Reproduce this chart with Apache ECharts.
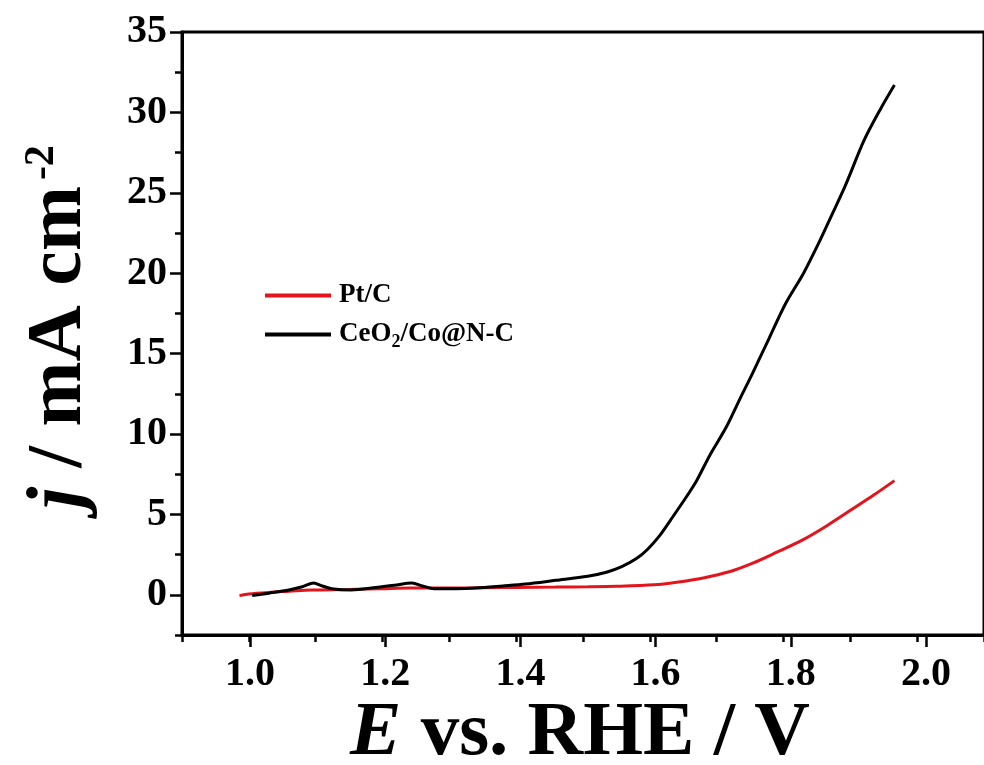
<!DOCTYPE html>
<html>
<head>
<meta charset="utf-8">
<script src="https://cdn.jsdelivr.net/npm/echarts@6/dist/echarts.min.js"></script>
<style>
  html, body { margin: 0; padding: 0; background: #fff; }
  #lsv { width: 984px; height: 765px; }
</style>
</head>
<body>
<div id="lsv"></div>
<script>
// potentials (V vs. RHE) and current densities (mA cm-2)
var ptcE = [0.986, 1.0, 1.03, 1.06, 1.094, 1.15, 1.2, 1.241, 1.3, 1.35, 1.4, 1.459, 1.507, 1.55, 1.606, 1.64, 1.68, 1.72, 1.754, 1.79, 1.828, 1.865, 1.902, 1.935, 1.966];
var ptcJ = [-0.05, 0.05, 0.15, 0.22, 0.3, 0.33, 0.38, 0.42, 0.42, 0.44, 0.46, 0.48, 0.5, 0.53, 0.62, 0.78, 1.05, 1.45, 1.97, 2.65, 3.4, 4.3, 5.3, 6.2, 7.1];

var ceoE = [1.005, 1.03, 1.06, 1.08, 1.097, 1.11, 1.124, 1.153, 1.19, 1.218, 1.244, 1.26, 1.277, 1.31, 1.34, 1.38, 1.414, 1.459, 1.507, 1.535, 1.558, 1.58, 1.596, 1.615, 1.631, 1.65, 1.67, 1.69, 1.714, 1.735, 1.754, 1.779, 1.803, 1.83, 1.853, 1.872, 1.892, 1.921, 1.945, 1.966];
var ceoJ = [-0.05, 0.1, 0.3, 0.5, 0.73, 0.55, 0.38, 0.3, 0.45, 0.6, 0.73, 0.55, 0.38, 0.38, 0.42, 0.55, 0.67, 0.9, 1.15, 1.4, 1.75, 2.25, 2.8, 3.7, 4.65, 5.8, 7.1, 8.7, 10.4, 12.2, 13.8, 16.0, 18.1, 20.0, 21.9, 23.6, 25.4, 28.3, 30.2, 31.7];

var seriesNames = ['Pt/C', 'CeO2/Co@N-C'];

function pairs(xs, ys) {
    return xs.map(function (x, i) { return [x, ys[i]]; });
}

var serif = '"Liberation Serif", "Times New Roman", serif';

var chartDom = document.getElementById('lsv');
var myChart = echarts.init(chartDom);
var option;

option = {
    animation: false,
    backgroundColor: '#fff',
    // grid 0 holds the data and the axis lines, grid 1 only carries the labelled major ticks
    grid: [
        { left: 182, right: -10, top: 32, bottom: 130, show: true, borderColor: '#000', borderWidth: 3 },
        { left: 250, right: 58, top: 32, bottom: 170 }
    ],
    legend: {
        orient: 'vertical',
        left: 265,
        top: 282,
        padding: 0,
        itemWidth: 66,
        itemHeight: 4,
        itemGap: 12,
        icon: 'rect',
        data: seriesNames,
        formatter: function (name) {
            return name === 'CeO2/Co@N-C' ? '{t|CeO}{s|2}{t|/Co@N-C}' : '{t|' + name + '}';
        },
        textStyle: {
            padding: [0, 0, 0, 3],
            rich: {
                t: { fontFamily: serif, fontWeight: 'bold', fontSize: 27, color: '#000' },
                s: { fontFamily: serif, fontWeight: 'bold', fontSize: 18, color: '#000', verticalAlign: 'bottom', padding: [16, 0, 0, 0] }
            }
        }
    },
    xAxis: [
        {
            type: 'value', gridIndex: 0, min: 0.9, max: 2.1, interval: 0.1,
            axisLine: { show: true, onZero: false, lineStyle: { color: '#000', width: 3 } },
            axisTick: { show: true, length: 7, lineStyle: { color: '#000', width: 2.5 } },
            axisLabel: { show: false },
            splitLine: { show: false }
        },
        {
            type: 'value', gridIndex: 1, min: 1.0, max: 2.0, interval: 0.2, offset: 40,
            axisLine: { show: false, onZero: false },
            axisTick: { show: true, length: 12, lineStyle: { color: '#000', width: 2.5 } },
            axisLabel: {
                margin: 20, color: '#000', fontFamily: serif, fontWeight: 'bold', fontSize: 40,
                formatter: function (v) { return v.toFixed(1); }
            },
            splitLine: { show: false }
        }
    ],
    yAxis: [
        {
            type: 'value', gridIndex: 0, min: -2.5, max: 35, interval: 2.5,
            axisLine: { show: true, onZero: false, lineStyle: { color: '#000', width: 3 } },
            axisTick: { show: true, length: 7, lineStyle: { color: '#000', width: 2.5 } },
            axisLabel: { show: false },
            splitLine: { show: false }
        },
        {
            type: 'value', gridIndex: 1, min: 0, max: 35, interval: 5, offset: 68,
            axisLine: { show: false, onZero: false },
            axisTick: { show: true, length: 12, lineStyle: { color: '#000', width: 2.5 } },
            axisLabel: { margin: 15, color: '#000', fontFamily: serif, fontWeight: 'bold', fontSize: 40 },
            splitLine: { show: false }
        }
    ],
    graphic: [
        {
            type: 'text', x: 580, y: 734,
            style: {
                text: '{e|E} vs. RHE / V',
                font: 'bold 77px ' + serif,
                fill: '#000',
                align: 'center',
                verticalAlign: 'middle',
                rich: { e: { fontFamily: serif, fontStyle: 'italic', fontWeight: 'bold', fontSize: 77 } }
            }
        },
        {
            type: 'text', x: 60, y: 327, rotation: Math.PI / 2,
            style: {
                text: '{j|j} / mA cm{s|-2}',
                font: 'bold 78px ' + serif,
                fill: '#000',
                align: 'center',
                verticalAlign: 'middle',
                rich: {
                    j: { fontFamily: serif, fontStyle: 'italic', fontWeight: 'bold', fontSize: 78 },
                    s: { fontFamily: serif, fontWeight: 'bold', fontSize: 42, verticalAlign: 'top', padding: [0, 0, 30, 6] }
                }
            }
        }
    ],
    series: [
        {
            name: seriesNames[0], type: 'line', xAxisIndex: 0, yAxisIndex: 0,
            data: pairs(ptcE, ptcJ), showSymbol: false, symbol: 'none', smooth: 0.3,
            lineStyle: { color: '#e3141b', width: 3 }, itemStyle: { color: '#e3141b' }
        },
        {
            name: seriesNames[1], type: 'line', xAxisIndex: 0, yAxisIndex: 0,
            data: pairs(ceoE, ceoJ), showSymbol: false, symbol: 'none', smooth: 0.3,
            lineStyle: { color: '#000', width: 3 }, itemStyle: { color: '#000' }
        }
    ]
};

option && myChart.setOption(option);
</script>
</body>
</html>
